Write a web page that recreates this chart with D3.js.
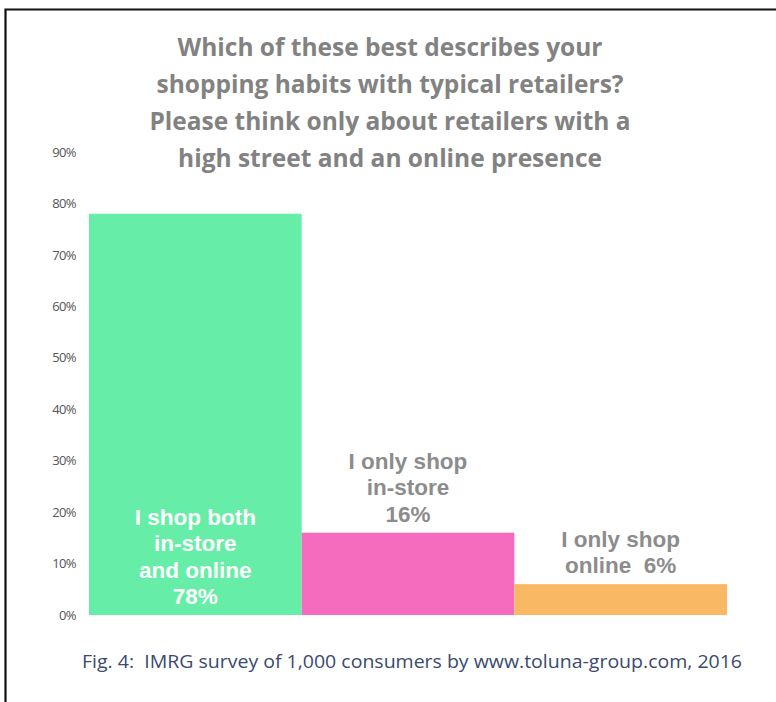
<!DOCTYPE html>
<html lang="en">
<head>
  <meta charset='utf-8'>
  <title>Shopping habits</title>
  <style>
    html, body { margin: 0; padding: 0; background: #fff; }
    svg { display: block; }
  </style>
</head>
<body>
  <div id="chart"></div>

<script src="https://cdnjs.cloudflare.com/ajax/libs/d3/7.8.5/d3.min.js"></script>
<script>

  ////////////////////////////////////////////////// DATA

  var categories = ["both", "store", "online"];
  var values     = [78, 16, 6];
  var barColors  = ["#66eea8", "#f56bbe", "#f9b964"];
  var barLabels  = [
    ["I shop both", "in-store", "and online", "78%"],
    ["I only shop", "in-store", "16%"],
    ["I only shop", "online  6%"]
  ];
  var yTicks = [0, 10, 20, 30, 40, 50, 60, 70, 80, 90];

  var titleLines = [
    "Which of these best describes your",
    "shopping habits with typical retailers?",
    "Please think only about retailers with a",
    "high street and an online presence"
  ];
  var caption = "Fig. 4:  IMRG survey of 1,000 consumers by www.toluna-group.com, 2016";

  ////////////////////////////////////////////////// SETUP

  var width = 776, height = 702;
  var plot = {left: 89, right: 727, top: 152, bottom: 615};

  var svg = d3.select("#chart").append("svg")
              .attr("width", width)
              .attr("height", height);

  // frame (top and left edges only, as in the scan)
  svg.append("path")
     .attr("d", "M5.5,702 L5.5,9.5 L776,9.5")
     .attr("fill", "none")
     .attr("stroke", "#111")
     .attr("stroke-width", 2.2);

  var x = d3.scaleBand()
            .domain(categories)
            .range([plot.left, plot.right])
            .padding(0);

  var y = d3.scaleLinear()
            .domain([0, 90])
            .range([plot.bottom, plot.top]);

  // y axis, labels only
  var yAxis = d3.axisLeft(y)
                .tickValues(yTicks)
                .tickSize(0)
                .tickPadding(0)
                .tickFormat(function(d){ return d + "%"; });

  var gy = svg.append("g")
              .attr("transform", "translate(76,0)")
              .call(yAxis);
  gy.select(".domain").remove();
  gy.selectAll("text")
    .attr("font-family", "'Open Sans', sans-serif")
    .attr("font-size", 13)
    .attr("fill", "#555")
    .attr("letter-spacing", "-0.6px");

  // bars
  svg.append("g")
     .selectAll("rect")
     .data(values)
     .enter()
     .append("rect")
     .attr("x", function(d,i){ return x(categories[i]); })
     .attr("width", x.bandwidth())
     .attr("y", function(d){ return y(d); })
     .attr("height", function(d){ return y(0) - y(d); })
     .attr("fill", function(d,i){ return barColors[i]; });

  // bar labels
  var lineH = 26.5;
  var labelG = svg.append("g")
                  .attr("font-family", "'Liberation Sans', Arial, sans-serif")
                  .attr("font-weight", "bold")
                  .attr("font-size", 22.5)
                  .attr("text-anchor", "middle");

  barLabels.forEach(function(lines, i){
    var cx = x(categories[i]) + x.bandwidth() / 2;
    var inside = i === 0;
    // first bar: text sits inside near the bottom, others: above the bar
    var lastY = inside ? y(0) - 11 : y(values[i]) - 11;
    lines.forEach(function(t, j){
      labelG.append("text")
            .attr("x", cx)
            .attr("y", lastY - (lines.length - 1 - j) * lineH)
            .attr("fill", inside ? "#ffffff" : "#8c8c8c")
            .attr("xml:space", "preserve")
            .text(t);
    });
  });

  // title
  var titleG = svg.append("g")
                  .attr("font-family", "'Open Sans', sans-serif")
                  .attr("font-weight", "bold")
                  .attr("font-size", 24.5)
                  .attr("fill", "#828282")
                  .attr("text-anchor", "middle");
  titleLines.forEach(function(t, i){
    titleG.append("text")
          .attr("x", 390)
          .attr("y", 56 + i * 37)
          .text(t);
  });

  // caption
  svg.append("text")
     .attr("x", 82)
     .attr("y", 668)
     .attr("font-family", "'Open Sans', sans-serif")
     .attr("font-size", 18)
     .attr("fill", "#3b4a6e")
     .attr("textLength", 660)
     .attr("lengthAdjust", "spacingAndGlyphs")
     .attr("xml:space", "preserve")
     .text(caption);

</script>
</body>
</html>
